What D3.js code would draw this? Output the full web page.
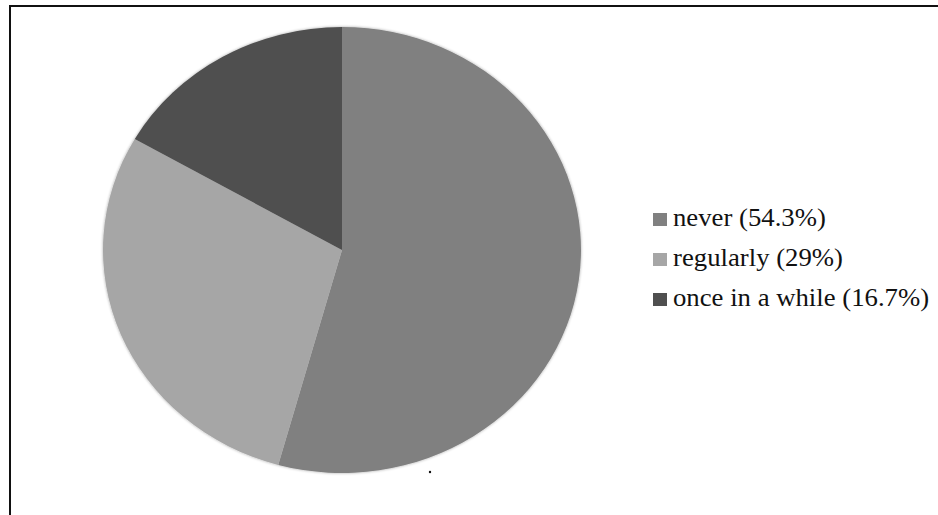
<!DOCTYPE html>
<html>
<head>
<meta charset="utf-8">
<script src="https://cdn.jsdelivr.net/npm/d3@7"></script>
<style>
  body { margin: 0; background: #fff; }
</style>
</head>
<body>
<svg></svg>
<script>
var width = 938;
var height = 515;

// data
var labels = ["never (54.3%)", "regularly (29%)", "once in a while (16.7%)"];
var values = [54.3, 29, 16.7];
var colors = ["#808080", "#a6a6a6", "#4f4f4f"];

var svg = d3.select("svg")
    .attr("width", width)
    .attr("height", height);

// frame
svg.append("rect")
    .attr("x", 10).attr("y", 6)
    .attr("width", 940).attr("height", 520)
    .attr("fill", "none")
    .attr("stroke", "#111")
    .attr("stroke-width", 2);

var defs = svg.append("defs");
var shadow = defs.append("filter").attr("id", "soft").attr("x", "-5%").attr("y", "-5%").attr("width", "110%").attr("height", "110%");
shadow.append("feGaussianBlur").attr("in", "SourceAlpha").attr("stdDeviation", 1.5).attr("result", "b");
shadow.append("feComponentTransfer").attr("in", "b").attr("result", "o2")
    .append("feFuncA").attr("type", "linear").attr("slope", 0.35);
var fm = shadow.append("feMerge");
fm.append("feMergeNode").attr("in", "o2");
fm.append("feMergeNode").attr("in", "SourceGraphic");

// pie (slightly stretched horizontally like the original)
var cx = 342, cy = 250, ry = 223, rx = 239;

var pie = d3.pie().sort(null).value(function(d) { return d; });
var arc = d3.arc().innerRadius(0).outerRadius(ry);

var g = svg.append("g")
    .attr("transform", "translate(" + cx + "," + cy + ") scale(" + (rx / ry) + ",1)")
    .style("filter", "url(#soft)");

g.selectAll("path")
    .data(pie(values))
    .enter()
    .append("path")
    .attr("d", arc)
    .attr("fill", function(d, i) { return colors[i]; });

// stray dot under the pie
svg.append("circle").attr("cx", 430).attr("cy", 472).attr("r", 1.2).attr("fill", "#111");

// legend
var legend = svg.append("g")
    .attr("transform", "translate(653,0)");

var rowY = d3.scalePoint().domain(labels).range([226, 306]);

legend.selectAll("rect")
    .data(labels)
    .enter()
    .append("rect")
    .attr("x", 0)
    .attr("y", function(d) { return rowY(d) - 13; })
    .attr("width", 14).attr("height", 13)
    .attr("fill", function(d, i) { return colors[i]; });

legend.selectAll("text")
    .data(labels)
    .enter()
    .append("text")
    .attr("transform", function(d) { return "translate(20," + rowY(d) + ") scale(1.07,1)"; })
    .style("font-family", "'Liberation Serif', 'Times New Roman', serif")
    .style("font-size", "25px")
    .style("fill", "#111")
    .text(function(d) { return d; });
</script>
</body>
</html>
